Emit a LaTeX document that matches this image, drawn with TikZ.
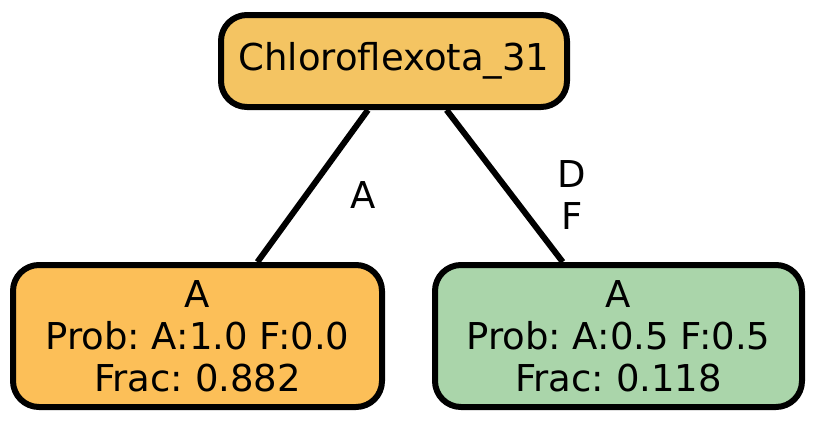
\documentclass[tikz,border=0pt]{standalone}
\usepackage{fontspec}
\setmainfont{DejaVu Sans}
\usepackage{xcolor}
\usepackage{tikz}
\usetikzlibrary{positioning}
\definecolor{rootcolor}{HTML}{F4C462}
\definecolor{leftcolor}{HTML}{FCBF58}
\definecolor{rightcolor}{HTML}{AAD5AA}
\frenchspacing

\begin{document}
\begin{tikzpicture}[line width=6pt,every node/.style={font=\fontsize{37}{42}\selectfont},
  treebox/.style={draw,rounded corners=26pt,align=center,inner sep=0pt}]
\useasboundingbox (0,0) rectangle (817pt,-421pt);
\node[treebox,fill=rootcolor,minimum width=346pt,minimum height=92pt](root) at (394pt,-61pt){Chloroflexota\_31};
\node[treebox,fill=leftcolor,minimum width=369pt,minimum height=142pt,below=152pt of root,xshift=-196.5pt](left){A\\Prob: A:1.0 F:0.0\\Frac: 0.882};
\node[treebox,fill=rightcolor,minimum width=367pt,minimum height=142pt,below=152pt of root,xshift=224.5pt](right){A\\Prob: A:0.5 F:0.5\\Frac: 0.118};
\draw(root.242)--(left.51) node[midway,xshift=50pt,yshift=-9pt]{A};
\draw(root.-43)--(right.127) node[midway,xshift=67pt,yshift=-9pt,align=center]{D\\F};
\end{tikzpicture}
\end{document}
